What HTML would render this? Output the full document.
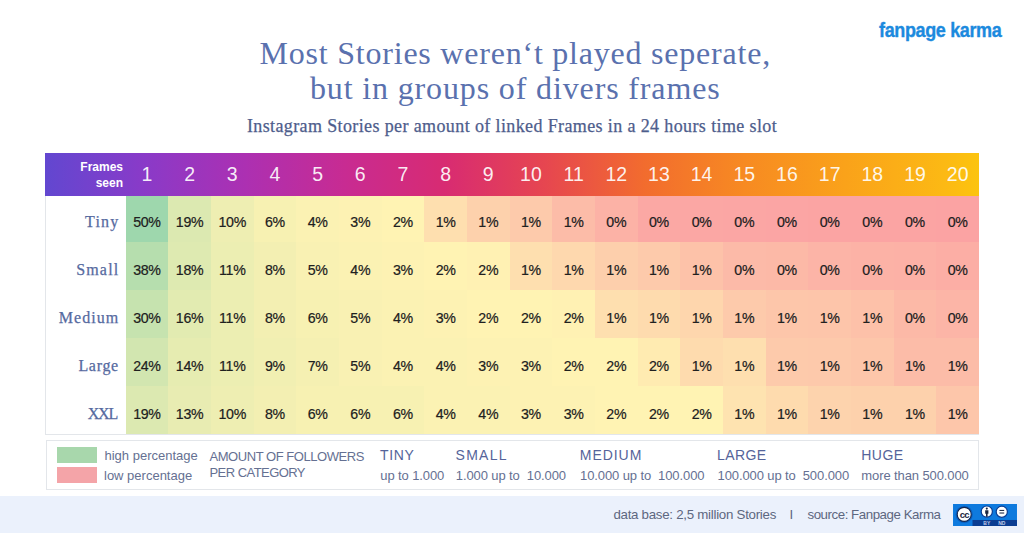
<!DOCTYPE html>
<html><head><meta charset="utf-8"><style>
*{margin:0;padding:0;box-sizing:border-box}
html,body{width:1024px;height:533px;overflow:hidden;background:#fff}
body{position:relative;font-family:"Liberation Sans",sans-serif}
.abs{position:absolute}
.logo{position:absolute;left:879px;top:20px;font:700 20px/1 "Liberation Sans",sans-serif;color:#1c8ade;letter-spacing:-0.4px;white-space:nowrap;transform:scaleX(0.9);transform-origin:0 0;-webkit-text-stroke:0.35px #1c8ade}
.t1,.t2{position:absolute;left:0;width:1024px;text-align:center;font:400 32px/1 "Liberation Serif",serif;color:#5a71ae;letter-spacing:0.7px;white-space:nowrap}
.t1{top:36.5px;padding-left:6.5px;letter-spacing:0.78px}
.t2{top:71.5px;padding-left:6.5px;letter-spacing:0.86px}
.sub{position:absolute;left:0;width:1024px;text-align:center;top:116.5px;font:400 18px/1 "Liberation Serif",serif;color:#4e5d8c;letter-spacing:0.38px;white-space:nowrap;-webkit-text-stroke:0.25px #4e5d8c}
.tbl{position:absolute;left:45px;top:196px;width:934px;height:239px;border:1px solid #e3e6ea;border-top:none;background:#fff}
.hdr{position:absolute;left:45px;top:152.5px;width:934px;height:43.5px;
background:linear-gradient(90deg,#6247d0 0%,#7840cc 6%,#8a3ac8 10.7%,#ac30b2 21.4%,#c82b92 32.1%,#d82b72 42.8%,#e64650 53.5%,#f26c2e 64.2%,#f78a22 74.9%,#faa21a 85.6%,#fcb914 96.3%,#fcc40e 100%)}
.fs{position:absolute;left:60px;width:63px;text-align:right;color:#fff;font:700 12px/15.6px "Liberation Sans",sans-serif;top:160.2px}
.hn{position:absolute;top:165.4px;width:42.67px;text-align:center;color:rgba(255,255,255,0.92);font:400 19.5px/19.5px "Liberation Sans",sans-serif}
.cell{position:absolute;width:42.67px}
.num{position:absolute;width:42.67px;text-align:center;line-height:14px;font-size:14.2px;color:#202020;letter-spacing:-0.3px;-webkit-text-stroke:0.2px #202020}
.lab{position:absolute;left:46px;width:71.5px;text-align:right;font:400 16px/16px "Liberation Serif",serif;color:#566a9f;-webkit-text-stroke:0.25px #566a9f}
.leg{position:absolute;left:45.5px;top:440px;width:933px;height:50px;border:1px solid #e3e6ea;background:#fff}
.sw{position:absolute;left:56.6px;width:40px;height:16px}
.lt{position:absolute;font-size:13px;color:#657092;white-space:nowrap;line-height:1}
.lh{position:absolute;font-size:14px;color:#55649a;white-space:nowrap;line-height:1}
.foot{position:absolute;left:0;top:496px;width:1024px;height:37px;background:#ebf1fc}
.ft{position:absolute;top:508px;font-size:13.3px;color:#5d6780;white-space:nowrap;line-height:1}
</style></head><body>
<div class="logo">fanpage karma</div>
<div class="t1">Most Stories weren‘t played seperate,</div>
<div class="t2">but in groups of divers frames</div>
<div class="sub">Instagram Stories per amount of linked Frames in a 24 hours time slot</div>
<div class="tbl"></div>
<div class="hdr"></div>
<div class="fs">Frames<br>seen</div>
<div class="hn" style="left:125.60px">1</div><div class="hn" style="left:168.27px">2</div><div class="hn" style="left:210.94px">3</div><div class="hn" style="left:253.61px">4</div><div class="hn" style="left:296.28px">5</div><div class="hn" style="left:338.95px">6</div><div class="hn" style="left:381.62px">7</div><div class="hn" style="left:424.29px">8</div><div class="hn" style="left:466.96px">9</div><div class="hn" style="left:509.63px">10</div><div class="hn" style="left:552.30px">11</div><div class="hn" style="left:594.97px">12</div><div class="hn" style="left:637.64px">13</div><div class="hn" style="left:680.31px">14</div><div class="hn" style="left:722.98px">15</div><div class="hn" style="left:765.65px">16</div><div class="hn" style="left:808.32px">17</div><div class="hn" style="left:850.99px">18</div><div class="hn" style="left:893.66px">19</div><div class="hn" style="left:936.33px">20</div>
<div class="lab" style="top:213.6px;letter-spacing:1.17px;width:73.37px">Tiny</div><div class="cell" style="left:125.60px;top:196.0px;height:46.2px;background:#9ed7ad"></div><div class="num" style="left:125.60px;top:215.15px">50%</div><div class="cell" style="left:168.27px;top:196.0px;height:46.2px;background:#dce9b1"></div><div class="num" style="left:168.27px;top:215.15px">19%</div><div class="cell" style="left:210.94px;top:196.0px;height:46.2px;background:#eeeeb2"></div><div class="num" style="left:210.94px;top:215.15px">10%</div><div class="cell" style="left:253.61px;top:196.0px;height:46.2px;background:#f7f1b2"></div><div class="num" style="left:253.61px;top:215.15px">6%</div><div class="cell" style="left:296.28px;top:196.0px;height:46.2px;background:#fbf2b3"></div><div class="num" style="left:296.28px;top:215.15px">4%</div><div class="cell" style="left:338.95px;top:196.0px;height:46.2px;background:#fdf2b3"></div><div class="num" style="left:338.95px;top:215.15px">3%</div><div class="cell" style="left:381.62px;top:196.0px;height:46.2px;background:#fff3b3"></div><div class="num" style="left:381.62px;top:215.15px">2%</div><div class="cell" style="left:424.29px;top:196.0px;height:46.2px;background:#fedfaf"></div><div class="num" style="left:424.29px;top:215.15px">1%</div><div class="cell" style="left:466.96px;top:196.0px;height:46.2px;background:#fdd1ac"></div><div class="num" style="left:466.96px;top:215.15px">1%</div><div class="cell" style="left:509.63px;top:196.0px;height:46.2px;background:#fdcaab"></div><div class="num" style="left:509.63px;top:215.15px">1%</div><div class="cell" style="left:552.30px;top:196.0px;height:46.2px;background:#fcbca8"></div><div class="num" style="left:552.30px;top:215.15px">1%</div><div class="cell" style="left:594.97px;top:196.0px;height:46.2px;background:#fcb2a6"></div><div class="num" style="left:594.97px;top:215.15px">0%</div><div class="cell" style="left:637.64px;top:196.0px;height:46.2px;background:#fba8a4"></div><div class="num" style="left:637.64px;top:215.15px">0%</div><div class="cell" style="left:680.31px;top:196.0px;height:46.2px;background:#fba7a4"></div><div class="num" style="left:680.31px;top:215.15px">0%</div><div class="cell" style="left:722.98px;top:196.0px;height:46.2px;background:#fba6a4"></div><div class="num" style="left:722.98px;top:215.15px">0%</div><div class="cell" style="left:765.65px;top:196.0px;height:46.2px;background:#fba5a4"></div><div class="num" style="left:765.65px;top:215.15px">0%</div><div class="cell" style="left:808.32px;top:196.0px;height:46.2px;background:#fba4a3"></div><div class="num" style="left:808.32px;top:215.15px">0%</div><div class="cell" style="left:850.99px;top:196.0px;height:46.2px;background:#fba4a3"></div><div class="num" style="left:850.99px;top:215.15px">0%</div><div class="cell" style="left:893.66px;top:196.0px;height:46.2px;background:#fba4a3"></div><div class="num" style="left:893.66px;top:215.15px">0%</div><div class="cell" style="left:936.33px;top:196.0px;height:46.2px;background:#fba3a3"></div><div class="num" style="left:936.33px;top:215.15px">0%</div><div class="lab" style="top:261.6px;letter-spacing:1.17px;width:73.37px">Small</div><div class="cell" style="left:125.60px;top:242.2px;height:48.0px;background:#b6deae"></div><div class="num" style="left:125.60px;top:263.15px">38%</div><div class="cell" style="left:168.27px;top:242.2px;height:48.0px;background:#deeab1"></div><div class="num" style="left:168.27px;top:263.15px">18%</div><div class="cell" style="left:210.94px;top:242.2px;height:48.0px;background:#eceeb2"></div><div class="num" style="left:210.94px;top:263.15px">11%</div><div class="cell" style="left:253.61px;top:242.2px;height:48.0px;background:#f3efb2"></div><div class="num" style="left:253.61px;top:263.15px">8%</div><div class="cell" style="left:296.28px;top:242.2px;height:48.0px;background:#f9f1b3"></div><div class="num" style="left:296.28px;top:263.15px">5%</div><div class="cell" style="left:338.95px;top:242.2px;height:48.0px;background:#fbf2b3"></div><div class="num" style="left:338.95px;top:263.15px">4%</div><div class="cell" style="left:381.62px;top:242.2px;height:48.0px;background:#fdf2b3"></div><div class="num" style="left:381.62px;top:263.15px">3%</div><div class="cell" style="left:424.29px;top:242.2px;height:48.0px;background:#fff3b3"></div><div class="num" style="left:424.29px;top:263.15px">2%</div><div class="cell" style="left:466.96px;top:242.2px;height:48.0px;background:#fff1b3"></div><div class="num" style="left:466.96px;top:263.15px">2%</div><div class="cell" style="left:509.63px;top:242.2px;height:48.0px;background:#fedfaf"></div><div class="num" style="left:509.63px;top:263.15px">1%</div><div class="cell" style="left:552.30px;top:242.2px;height:48.0px;background:#fed8ae"></div><div class="num" style="left:552.30px;top:263.15px">1%</div><div class="cell" style="left:594.97px;top:242.2px;height:48.0px;background:#fdcfac"></div><div class="num" style="left:594.97px;top:263.15px">1%</div><div class="cell" style="left:637.64px;top:242.2px;height:48.0px;background:#fdcaab"></div><div class="num" style="left:637.64px;top:263.15px">1%</div><div class="cell" style="left:680.31px;top:242.2px;height:48.0px;background:#fdc2a9"></div><div class="num" style="left:680.31px;top:263.15px">1%</div><div class="cell" style="left:722.98px;top:242.2px;height:48.0px;background:#fcbaa8"></div><div class="num" style="left:722.98px;top:263.15px">0%</div><div class="cell" style="left:765.65px;top:242.2px;height:48.0px;background:#fcb9a7"></div><div class="num" style="left:765.65px;top:263.15px">0%</div><div class="cell" style="left:808.32px;top:242.2px;height:48.0px;background:#fcb4a7"></div><div class="num" style="left:808.32px;top:263.15px">0%</div><div class="cell" style="left:850.99px;top:242.2px;height:48.0px;background:#fcb2a6"></div><div class="num" style="left:850.99px;top:263.15px">0%</div><div class="cell" style="left:893.66px;top:242.2px;height:48.0px;background:#fcb1a6"></div><div class="num" style="left:893.66px;top:263.15px">0%</div><div class="cell" style="left:936.33px;top:242.2px;height:48.0px;background:#fcaea5"></div><div class="num" style="left:936.33px;top:263.15px">0%</div><div class="lab" style="top:309.6px;letter-spacing:1.04px;width:73.24px">Medium</div><div class="cell" style="left:125.60px;top:290.2px;height:48.0px;background:#c6e3af"></div><div class="num" style="left:125.60px;top:311.15px">30%</div><div class="cell" style="left:168.27px;top:290.2px;height:48.0px;background:#e2ebb1"></div><div class="num" style="left:168.27px;top:311.15px">16%</div><div class="cell" style="left:210.94px;top:290.2px;height:48.0px;background:#eceeb2"></div><div class="num" style="left:210.94px;top:311.15px">11%</div><div class="cell" style="left:253.61px;top:290.2px;height:48.0px;background:#f3efb2"></div><div class="num" style="left:253.61px;top:311.15px">8%</div><div class="cell" style="left:296.28px;top:290.2px;height:48.0px;background:#f7f1b2"></div><div class="num" style="left:296.28px;top:311.15px">6%</div><div class="cell" style="left:338.95px;top:290.2px;height:48.0px;background:#f9f1b3"></div><div class="num" style="left:338.95px;top:311.15px">5%</div><div class="cell" style="left:381.62px;top:290.2px;height:48.0px;background:#fbf2b3"></div><div class="num" style="left:381.62px;top:311.15px">4%</div><div class="cell" style="left:424.29px;top:290.2px;height:48.0px;background:#fdf2b3"></div><div class="num" style="left:424.29px;top:311.15px">3%</div><div class="cell" style="left:466.96px;top:290.2px;height:48.0px;background:#fff3b3"></div><div class="num" style="left:466.96px;top:311.15px">2%</div><div class="cell" style="left:509.63px;top:290.2px;height:48.0px;background:#fff3b3"></div><div class="num" style="left:509.63px;top:311.15px">2%</div><div class="cell" style="left:552.30px;top:290.2px;height:48.0px;background:#fff1b3"></div><div class="num" style="left:552.30px;top:311.15px">2%</div><div class="cell" style="left:594.97px;top:290.2px;height:48.0px;background:#fedfaf"></div><div class="num" style="left:594.97px;top:311.15px">1%</div><div class="cell" style="left:637.64px;top:290.2px;height:48.0px;background:#fedbae"></div><div class="num" style="left:637.64px;top:311.15px">1%</div><div class="cell" style="left:680.31px;top:290.2px;height:48.0px;background:#fed6ad"></div><div class="num" style="left:680.31px;top:311.15px">1%</div><div class="cell" style="left:722.98px;top:290.2px;height:48.0px;background:#fdcaab"></div><div class="num" style="left:722.98px;top:311.15px">1%</div><div class="cell" style="left:765.65px;top:290.2px;height:48.0px;background:#fdc6aa"></div><div class="num" style="left:765.65px;top:311.15px">1%</div><div class="cell" style="left:808.32px;top:290.2px;height:48.0px;background:#fdc5aa"></div><div class="num" style="left:808.32px;top:311.15px">1%</div><div class="cell" style="left:850.99px;top:290.2px;height:48.0px;background:#fdc1a9"></div><div class="num" style="left:850.99px;top:311.15px">1%</div><div class="cell" style="left:893.66px;top:290.2px;height:48.0px;background:#fcb9a7"></div><div class="num" style="left:893.66px;top:311.15px">0%</div><div class="cell" style="left:936.33px;top:290.2px;height:48.0px;background:#fcb5a7"></div><div class="num" style="left:936.33px;top:311.15px">0%</div><div class="lab" style="top:357.6px;letter-spacing:0.7px;width:72.90px">Large</div><div class="cell" style="left:125.60px;top:338.2px;height:48.0px;background:#d2e6b0"></div><div class="num" style="left:125.60px;top:359.15px">24%</div><div class="cell" style="left:168.27px;top:338.2px;height:48.0px;background:#e6ecb1"></div><div class="num" style="left:168.27px;top:359.15px">14%</div><div class="cell" style="left:210.94px;top:338.2px;height:48.0px;background:#eceeb2"></div><div class="num" style="left:210.94px;top:359.15px">11%</div><div class="cell" style="left:253.61px;top:338.2px;height:48.0px;background:#f1efb2"></div><div class="num" style="left:253.61px;top:359.15px">9%</div><div class="cell" style="left:296.28px;top:338.2px;height:48.0px;background:#f5f0b2"></div><div class="num" style="left:296.28px;top:359.15px">7%</div><div class="cell" style="left:338.95px;top:338.2px;height:48.0px;background:#f9f1b3"></div><div class="num" style="left:338.95px;top:359.15px">5%</div><div class="cell" style="left:381.62px;top:338.2px;height:48.0px;background:#fbf2b3"></div><div class="num" style="left:381.62px;top:359.15px">4%</div><div class="cell" style="left:424.29px;top:338.2px;height:48.0px;background:#fbf2b3"></div><div class="num" style="left:424.29px;top:359.15px">4%</div><div class="cell" style="left:466.96px;top:338.2px;height:48.0px;background:#fdf2b3"></div><div class="num" style="left:466.96px;top:359.15px">3%</div><div class="cell" style="left:509.63px;top:338.2px;height:48.0px;background:#fdf2b3"></div><div class="num" style="left:509.63px;top:359.15px">3%</div><div class="cell" style="left:552.30px;top:338.2px;height:48.0px;background:#fff3b3"></div><div class="num" style="left:552.30px;top:359.15px">2%</div><div class="cell" style="left:594.97px;top:338.2px;height:48.0px;background:#fff3b3"></div><div class="num" style="left:594.97px;top:359.15px">2%</div><div class="cell" style="left:637.64px;top:338.2px;height:48.0px;background:#ffebb1"></div><div class="num" style="left:637.64px;top:359.15px">2%</div><div class="cell" style="left:680.31px;top:338.2px;height:48.0px;background:#fedbae"></div><div class="num" style="left:680.31px;top:359.15px">1%</div><div class="cell" style="left:722.98px;top:338.2px;height:48.0px;background:#fedfaf"></div><div class="num" style="left:722.98px;top:359.15px">1%</div><div class="cell" style="left:765.65px;top:338.2px;height:48.0px;background:#fdcaab"></div><div class="num" style="left:765.65px;top:359.15px">1%</div><div class="cell" style="left:808.32px;top:338.2px;height:48.0px;background:#fdc9ab"></div><div class="num" style="left:808.32px;top:359.15px">1%</div><div class="cell" style="left:850.99px;top:338.2px;height:48.0px;background:#fdc6aa"></div><div class="num" style="left:850.99px;top:359.15px">1%</div><div class="cell" style="left:893.66px;top:338.2px;height:48.0px;background:#fcbca8"></div><div class="num" style="left:893.66px;top:359.15px">1%</div><div class="cell" style="left:936.33px;top:338.2px;height:48.0px;background:#fcbca8"></div><div class="num" style="left:936.33px;top:359.15px">1%</div><div class="lab" style="top:405.6px;letter-spacing:-1.2px;width:71.00px">XXL</div><div class="cell" style="left:125.60px;top:386.2px;height:48.0px;background:#dce9b1"></div><div class="num" style="left:125.60px;top:407.15px">19%</div><div class="cell" style="left:168.27px;top:386.2px;height:48.0px;background:#e8ecb2"></div><div class="num" style="left:168.27px;top:407.15px">13%</div><div class="cell" style="left:210.94px;top:386.2px;height:48.0px;background:#eeeeb2"></div><div class="num" style="left:210.94px;top:407.15px">10%</div><div class="cell" style="left:253.61px;top:386.2px;height:48.0px;background:#f3efb2"></div><div class="num" style="left:253.61px;top:407.15px">8%</div><div class="cell" style="left:296.28px;top:386.2px;height:48.0px;background:#f7f1b2"></div><div class="num" style="left:296.28px;top:407.15px">6%</div><div class="cell" style="left:338.95px;top:386.2px;height:48.0px;background:#f7f1b2"></div><div class="num" style="left:338.95px;top:407.15px">6%</div><div class="cell" style="left:381.62px;top:386.2px;height:48.0px;background:#f7f1b2"></div><div class="num" style="left:381.62px;top:407.15px">6%</div><div class="cell" style="left:424.29px;top:386.2px;height:48.0px;background:#fbf2b3"></div><div class="num" style="left:424.29px;top:407.15px">4%</div><div class="cell" style="left:466.96px;top:386.2px;height:48.0px;background:#fbf2b3"></div><div class="num" style="left:466.96px;top:407.15px">4%</div><div class="cell" style="left:509.63px;top:386.2px;height:48.0px;background:#fdf2b3"></div><div class="num" style="left:509.63px;top:407.15px">3%</div><div class="cell" style="left:552.30px;top:386.2px;height:48.0px;background:#fdf2b3"></div><div class="num" style="left:552.30px;top:407.15px">3%</div><div class="cell" style="left:594.97px;top:386.2px;height:48.0px;background:#fff3b3"></div><div class="num" style="left:594.97px;top:407.15px">2%</div><div class="cell" style="left:637.64px;top:386.2px;height:48.0px;background:#fff3b3"></div><div class="num" style="left:637.64px;top:407.15px">2%</div><div class="cell" style="left:680.31px;top:386.2px;height:48.0px;background:#fff3b3"></div><div class="num" style="left:680.31px;top:407.15px">2%</div><div class="cell" style="left:722.98px;top:386.2px;height:48.0px;background:#fee3b0"></div><div class="num" style="left:722.98px;top:407.15px">1%</div><div class="cell" style="left:765.65px;top:386.2px;height:48.0px;background:#fedbae"></div><div class="num" style="left:765.65px;top:407.15px">1%</div><div class="cell" style="left:808.32px;top:386.2px;height:48.0px;background:#fdd3ad"></div><div class="num" style="left:808.32px;top:407.15px">1%</div><div class="cell" style="left:850.99px;top:386.2px;height:48.0px;background:#fdd1ac"></div><div class="num" style="left:850.99px;top:407.15px">1%</div><div class="cell" style="left:893.66px;top:386.2px;height:48.0px;background:#fdd1ac"></div><div class="num" style="left:893.66px;top:407.15px">1%</div><div class="cell" style="left:936.33px;top:386.2px;height:48.0px;background:#fdc6aa"></div><div class="num" style="left:936.33px;top:407.15px">1%</div>
<div class="leg"></div>
<div class="sw" style="top:447px;background:#a8d7ac"></div>
<div class="sw" style="top:467px;height:15.5px;background:#f4a4a8"></div>
<div class="lt" style="left:104.5px;top:449px">high percentage</div>
<div class="lt" style="left:104px;top:469px">low percentage</div>
<div class="lt" style="left:209.5px;top:450px;letter-spacing:-0.45px">AMOUNT OF FOLLOWERS</div>
<div class="lt" style="left:209.5px;top:465.5px;letter-spacing:-0.55px">PER CATEGORY</div>
<div class="lh" style="left:380px;top:448.3px;letter-spacing:0.65px">TINY</div>
<div class="lt" style="left:380.3px;top:468.5px;letter-spacing:-0.1px">up to 1.000</div>
<div class="lh" style="left:455.6px;top:448.3px;letter-spacing:1.25px">SMALL</div>
<div class="lt" style="left:455.8px;top:468.5px;letter-spacing:-0.1px">1.000 up to&nbsp; 10.000</div>
<div class="lh" style="left:579.8px;top:448.3px;letter-spacing:0.95px">MEDIUM</div>
<div class="lt" style="left:580px;top:468.5px;letter-spacing:-0.1px">10.000 up to&nbsp; 100.000</div>
<div class="lh" style="left:717px;top:448.3px;letter-spacing:0.4px">LARGE</div>
<div class="lt" style="left:717.5px;top:468.5px;letter-spacing:-0.1px">100.000 up to&nbsp; 500.000</div>
<div class="lh" style="left:861.2px;top:448.3px;letter-spacing:0.5px">HUGE</div>
<div class="lt" style="left:861.3px;top:468.5px;letter-spacing:-0.1px">more than 500.000</div>
<div class="foot"></div>
<div class="ft" style="left:613.4px;letter-spacing:-0.27px">data base: 2,5 million Stories</div>
<div class="ft" style="left:789.5px">I</div>
<div class="ft" style="left:807.5px;letter-spacing:-0.46px">source: Fanpage Karma</div>
<svg class="abs" style="left:953px;top:503.6px" width="64" height="22.2" viewBox="0 0 64 22.2">
<rect x="0" y="0" width="64" height="22.2" fill="#0e7ade"/>
<rect x="19.5" y="16" width="44.5" height="6.2" fill="#0b3d92"/>
<circle cx="11.2" cy="10.4" r="8.6" fill="#0a5fbf"/>
<circle cx="11.2" cy="10.4" r="7" fill="#fff" stroke="#13264e" stroke-width="1.1"/>
<text x="11.2" y="13.6" text-anchor="middle" font-family="Liberation Sans" font-weight="700" font-size="9.5" fill="#1a2540" letter-spacing="-0.9">cc</text>
<circle cx="33.8" cy="7.6" r="5.6" fill="#fff" stroke="#0b3d92" stroke-width="1.2"/>
<circle cx="33.8" cy="4.6" r="1.05" fill="#1a2540"/>
<path d="M32.2 6.2h3.2v3.6h-0.8v3h-1.6v-3h-0.8z" fill="#1a2540"/>
<circle cx="48.8" cy="7.8" r="5.6" fill="#fff" stroke="#0b3d92" stroke-width="1.2"/>
<rect x="46.4" y="5.9" width="4.8" height="1.05" fill="#1a2540"/>
<rect x="46.4" y="8.5" width="4.8" height="1.05" fill="#1a2540"/>
<text x="33.8" y="21.4" text-anchor="middle" font-family="Liberation Sans" font-weight="700" font-size="5" fill="#c0cce8">BY</text>
<text x="48.8" y="21.4" text-anchor="middle" font-family="Liberation Sans" font-weight="700" font-size="5" fill="#c0cce8">ND</text>
</svg>
</body></html>
